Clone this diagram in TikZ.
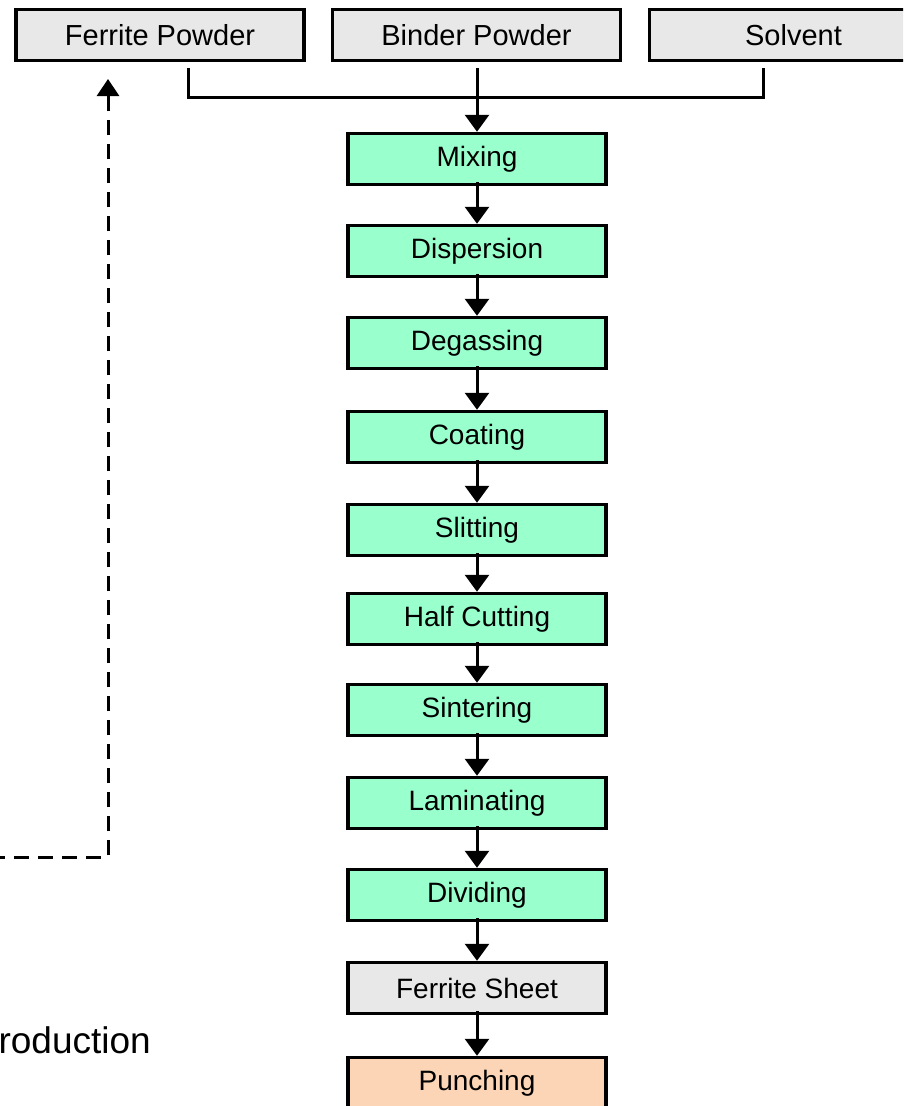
\documentclass[tikz,border=0pt]{standalone}
\usepackage{fontspec}
\setmainfont{Liberation Sans}
\usetikzlibrary{arrows.meta}
\definecolor{boxgray}{HTML}{E8E8E8}
\definecolor{boxgreen}{HTML}{99FFCC}
\definecolor{boxpeach}{HTML}{FBD5B5}
\tikzset{
  base/.style={draw=black, line width=3.5pt, minimum width=258pt, minimum height=51pt, inner sep=0pt, font=\fontsize{28}{33}\selectfont},
  greybox/.style={base, fill=boxgray},
  greenbox/.style={base, fill=boxgreen},
  peachbox/.style={base, fill=boxpeach},
  topbox/.style={base, fill=boxgray, minimum width=288pt, font=\fontsize{29}{34}\selectfont},
  conn/.style={line width=3pt},
  arr/.style={line width=3pt, -{Triangle[width=24pt,length=17pt]}},
  dasharr/.style={line width=3pt, dash pattern=on 15pt off 9pt, -{Triangle[width=22pt,length=17pt]}}
}
\begin{document}
\begin{tikzpicture}[x=1pt,y=-1pt]
\useasboundingbox (0,0) rectangle (903,1106);
\clip (0,0) rectangle (903,1106);
\node[topbox] (fp) at (160,35) {Ferrite Powder};
\node[topbox] (bp) at (476.5,35) {Binder Powder};
\node[topbox] (sv) at (793.5,35) {Solvent};
\coordinate (fpo) at (188,68);
\coordinate (svo) at (763,68);
\coordinate (bpo) at (477,68);
\coordinate (jl) at (188,97);
\coordinate (jr) at (763,97);
\node[greenbox] (mix) at (477,159) {Mixing};
\node[greenbox] (dis) at (477,251) {Dispersion};
\node[greenbox] (deg) at (477,343) {Degassing};
\node[greenbox] (coa) at (477,437) {Coating};
\node[greenbox] (sli) at (477,530) {Slitting};
\node[greenbox] (hc) at (477,619) {Half Cutting};
\node[greenbox] (sin) at (477,710) {Sintering};
\node[greenbox] (lam) at (477,803) {Laminating};
\node[greenbox] (div) at (477,895) {Dividing};
\node[greybox] (fs) at (477,988) {Ferrite Sheet};
\node[peachbox] (pun) at (477,1083) {Punching};
\draw[conn] (fpo) -- (jl) -- (jr) -- (svo);
\draw[arr] (bpo) -- (mix.north);
\foreach \a/\b in {mix/dis,dis/deg,deg/coa,coa/sli,sli/hc,hc/sin,sin/lam,lam/div,div/fs,fs/pun}
  \draw[arr] ([yshift=4pt]\a.south) -- (\b.north);
\coordinate (dl) at (-10,857);
\coordinate (dc) at (108,857);
\coordinate (dt) at (108,79);
\draw[dasharr] (dl) -- (dc) -- (dt);
\node[anchor=base east, inner sep=0pt, font=\fontsize{37}{44}\selectfont] (prod) at (151,1053) {roduction};
\end{tikzpicture}
\end{document}
